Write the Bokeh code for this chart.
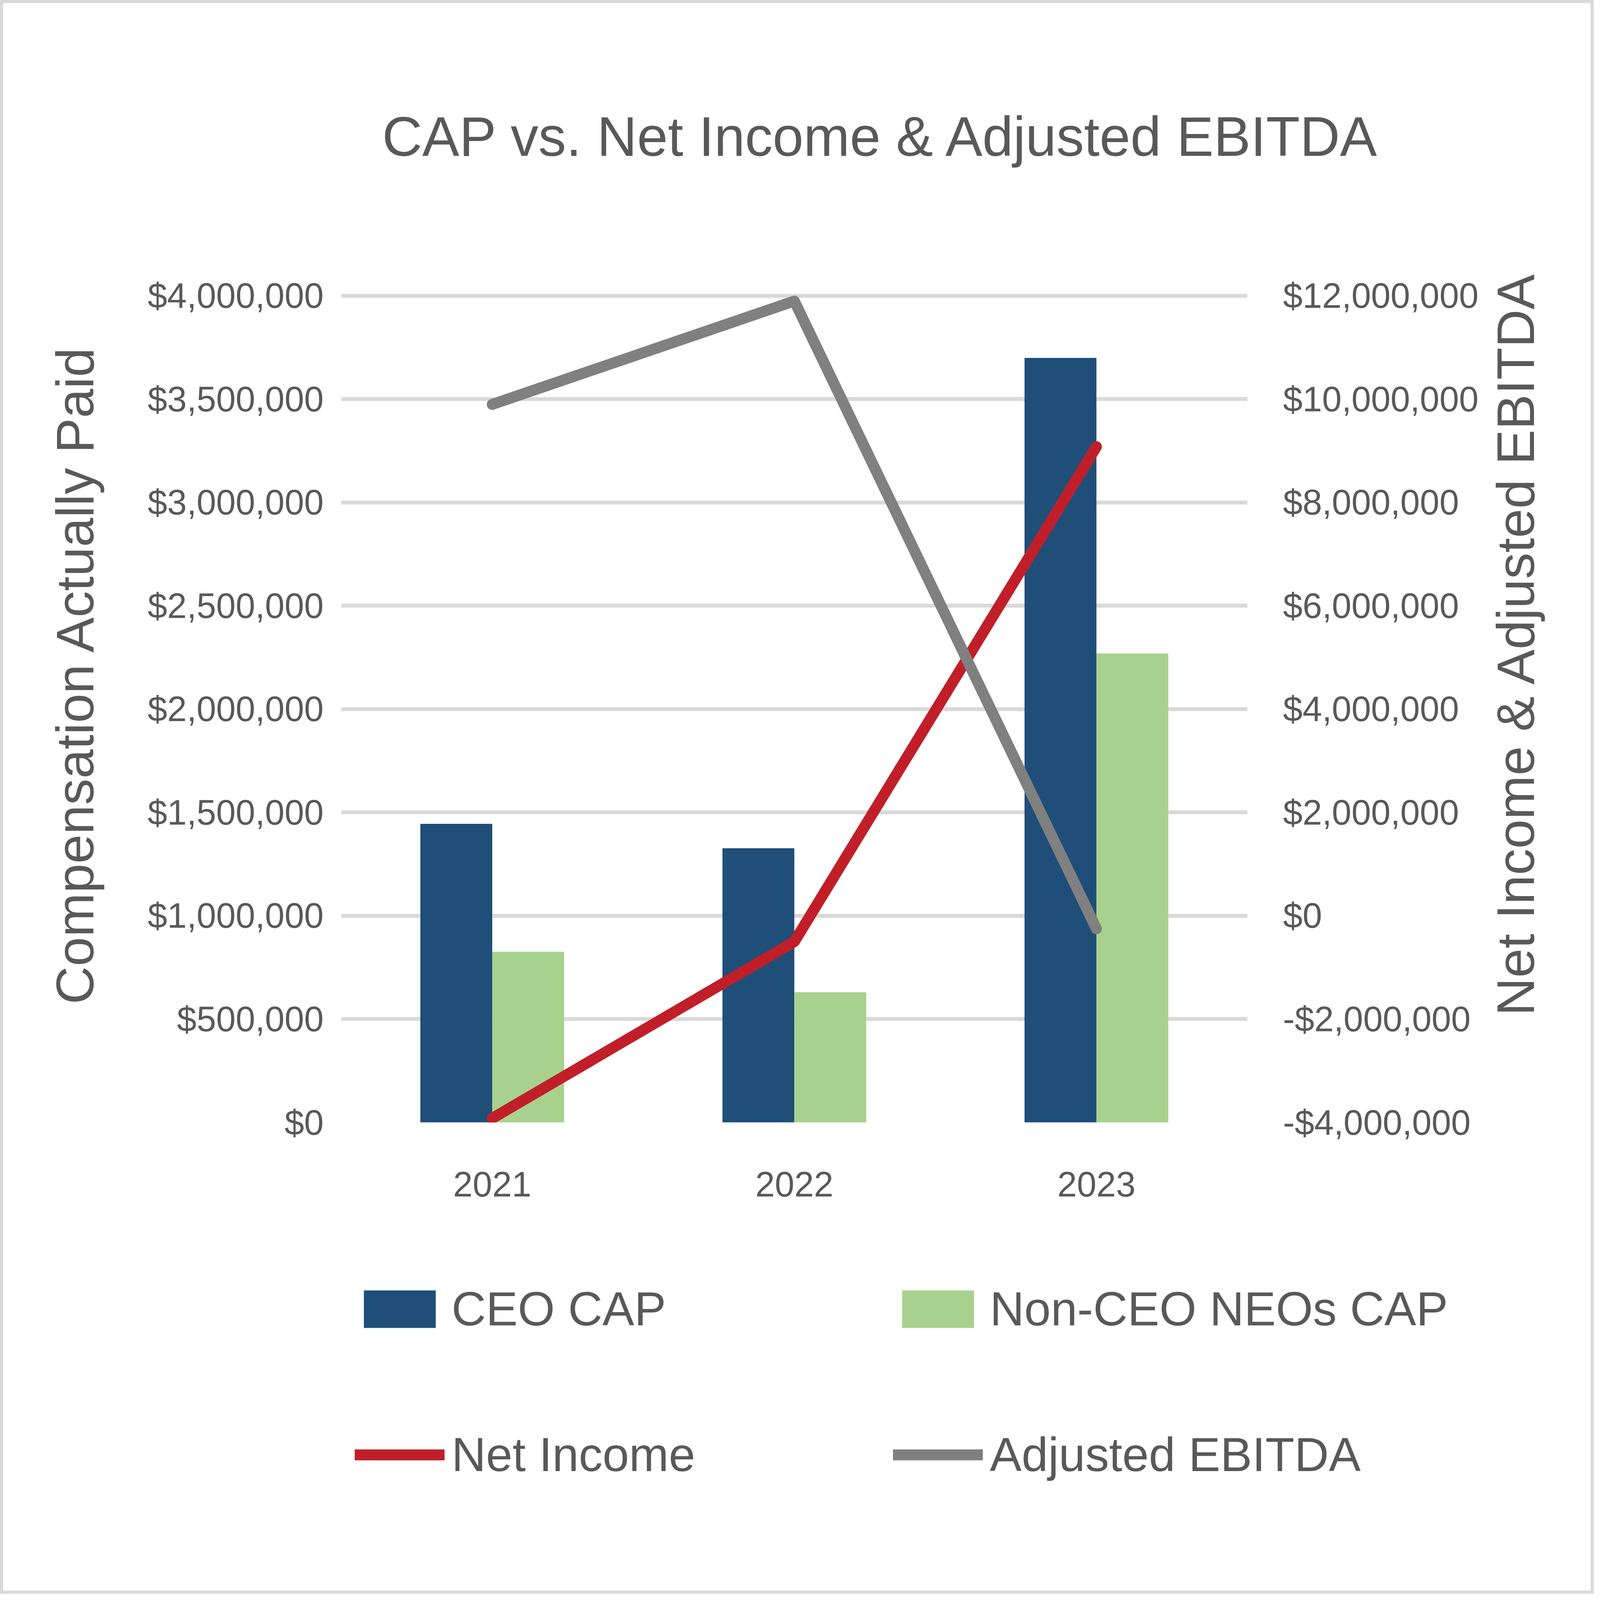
from math import pi
from bokeh.plotting import figure
from bokeh.layouts import row, column
from bokeh.models import (ColumnDataSource, Range1d, LinearAxis, FixedTicker, Legend,
                          LegendItem, FactorRange, Title, Label)
from bokeh.transform import dodge
from bokeh.embed import file_html
from bokeh.resources import INLINE

# ---------------- data ----------------
years = ["2021", "2022", "2023"]
ceo_cap = [1445000, 1327000, 3700000]
non_ceo_cap = [826000, 630000, 2270000]
net_income = [-3920000, -500000, 9080000]
adj_ebitda = [9900000, 11900000, -250000]

left_ticks = [0, 500000, 1000000, 1500000, 2000000, 2500000, 3000000, 3500000, 4000000]
left_tick_labels = ["$0", "$500,000", "$1,000,000", "$1,500,000", "$2,000,000",
                    "$2,500,000", "$3,000,000", "$3,500,000", "$4,000,000"]
right_ticks = [-4000000, -2000000, 0, 2000000, 4000000, 6000000, 8000000, 10000000, 12000000]
right_tick_labels = ["-$4,000,000", "-$2,000,000", "$0", "$2,000,000", "$4,000,000",
                     "$6,000,000", "$8,000,000", "$10,000,000", "$12,000,000"]

title_text = "CAP vs. Net Income & Adjusted EBITDA"
left_title = "Compensation Actually Paid"
right_title = "Net Income & Adjusted EBITDA"
series_names = ["CEO CAP", "Non-CEO NEOs CAP", "Net Income", "Adjusted EBITDA"]

# ---------------- layout / style ----------------
PAGE_W, PAGE_H = 4096, 4096
SX = PAGE_W / 5604.0
SY = PAGE_H / 4232.0
B = 8                       # outer border
ORG = 8 + B                 # page position of content origin
CW, CH = PAGE_W - 2 * ORG, PAGE_H - 2 * ORG   # content size (4064 x 4064)


def px(v):
    return v * SX


def py(v):
    return v * SY


FONT = "Liberation Sans"
TXT = "#595959"
GRID = "#D9D9D9"
C_CEO = "#1F4E79"
C_NEO = "#A9D18E"
C_NET = "#C01F2A"
C_EBITDA = "#808080"

TICK_FS = 90
TITLE_FS = 142
LEG_FS = 122
AX_FS = 135
LW = 28
BW = 0.238

# column split (page x): [left-title strip | main chart | right-title strip]
X_MAIN0, X_MAIN1 = 356, 3806
WL, WM, WR = X_MAIN0 - ORG, X_MAIN1 - X_MAIN0, ORG + CW - X_MAIN1
HM = 3120                   # height of the chart row
HL = CH - HM                # height of the legend strip

EXT = 100                   # empty frame space above the top grid line
GRID_H = py(2977) - py(790)
k = 1 + EXT / GRID_H
MB_L = int(round(px(1205) - X_MAIN0))
MB_R = int(round(WM - (px(4379) - X_MAIN0)))
MB_T = int(round(py(790) - ORG - EXT))
MB_B = int(round(HM - (py(2977) - ORG)))

src = ColumnDataSource(dict(year=years, ceo=ceo_cap, neo=non_ceo_cap,
                            net=net_income, ebitda=adj_ebitda))


def add_series(fig, y_right=None):
    rc = fig.vbar(x=dodge("year", -BW / 2, range=fig.x_range), top="ceo", width=BW,
                  source=src, fill_color=C_CEO, line_color=None)
    rn = fig.vbar(x=dodge("year", BW / 2, range=fig.x_range), top="neo", width=BW,
                  source=src, fill_color=C_NEO, line_color=None)
    kw = {} if y_right is None else {"y_range_name": y_right}
    rl1 = fig.line(x="year", y="net", source=src, line_color=C_NET, line_width=LW,
                   line_cap="round", line_join="round", **kw)
    rl2 = fig.line(x="year", y="ebitda", source=src, line_color=C_EBITDA, line_width=LW,
                   line_cap="round", line_join="round", **kw)
    return rc, rn, rl1, rl2


def blank(fig):
    fig.outline_line_color = None
    fig.background_fill_color = "white"
    fig.border_fill_color = "white"
    fig.grid.visible = False


# ---------------- main chart ----------------
p = figure(width=int(WM), height=int(HM), x_range=FactorRange(*years),
           y_range=Range1d(left_ticks[0], left_ticks[0] + (left_ticks[-1] - left_ticks[0]) * k),
           output_backend="svg", toolbar_location=None,
           min_border_left=MB_L, min_border_right=MB_R,
           min_border_top=MB_T, min_border_bottom=MB_B)
p.outline_line_color = None
p.background_fill_color = "white"
p.border_fill_color = "white"
p.title.text = ""
p.extra_y_ranges = {"right": Range1d(right_ticks[0],
                                     right_ticks[0] + (right_ticks[-1] - right_ticks[0]) * k)}

p.add_layout(Title(text=" ", text_font_size="1px", standoff=315 - (EXT - 6),
                   text_color="white"), "above")
p.add_layout(Title(text=title_text, align="left", offset=int(px(1359) - px(1205) - 7),
                   standoff=10, text_font=FONT, text_font_size="%dpx" % TITLE_FS,
                   text_font_style="normal", text_color=TXT), "above")

p.xgrid.visible = False
p.ygrid.ticker = FixedTicker(ticks=left_ticks)
p.ygrid.grid_line_color = GRID
p.ygrid.grid_line_width = 10

ya = p.yaxis[0]
ya.ticker = FixedTicker(ticks=left_ticks)
ya.major_label_overrides = {t: l for t, l in zip(left_ticks, left_tick_labels)}

ra = LinearAxis(y_range_name="right", ticker=FixedTicker(ticks=right_ticks))
ra.major_label_overrides = {t: l for t, l in zip(right_ticks, right_tick_labels)}
p.add_layout(ra, "right")

for ax in (ya, ra):
    ax.axis_line_color = None
    ax.major_tick_line_color = None
    ax.minor_tick_line_color = None
    ax.major_tick_out = 0
    ax.major_tick_in = 0
    ax.major_label_text_font = FONT
    ax.major_label_text_font_size = "%dpx" % TICK_FS
    ax.major_label_text_color = TXT
ya.major_label_standoff = int(px(1205) - px(1134)) - 6
ra.major_label_standoff = int(px(4500) - px(4379)) + 3

xa = p.xaxis[0]
xa.axis_line_color = None
xa.major_tick_line_color = None
xa.major_tick_out = 0
xa.major_tick_in = 0
xa.major_label_standoff = 126
xa.major_label_text_font = FONT
xa.major_label_text_font_size = "%dpx" % TICK_FS
xa.major_label_text_color = TXT

r_ceo, r_neo, r_net, r_ebitda = add_series(p, "right")


# ---------------- axis-title strips (page coordinates, frames aligned with the chart) ----------------
def strip(width, x0):
    f = figure(width=int(width), height=int(HM), x_range=Range1d(x0, x0 + width),
               y_range=Range1d(ORG + HM - MB_B, ORG + MB_T),
               output_backend="svg", toolbar_location=None, x_axis_location=None,
               y_axis_location=None, min_border_left=0, min_border_right=0,
               min_border_top=MB_T, min_border_bottom=MB_B)
    blank(f)
    f.title.text = ""
    return f


lt = strip(WL, ORG)
lt.add_layout(Label(x=px(274), y=py(1792), text=left_title, angle=pi / 2,
                    text_align="center", text_baseline="middle", text_font=FONT,
                    text_font_size="%dpx" % AX_FS, text_color=TXT))

rt = strip(WR, X_MAIN1)
rt.add_layout(Label(x=px(5319), y=py(1710), text=right_title, angle=pi / 2,
                    text_align="center", text_baseline="middle", text_font=FONT,
                    text_font_size="%dpx" % AX_FS, text_color=TXT))

# ---------------- legend strip ----------------
lg = figure(width=int(CW), height=int(HL), x_range=FactorRange(*years),
            y_range=Range1d(1e12, 2e12), output_backend="svg", toolbar_location=None,
            x_axis_location=None, y_axis_location=None, min_border=0)
blank(lg)
lg.title.text = ""
g_ceo, g_neo, g_net, g_ebitda = add_series(lg)     # same series, outside the visible range

GW, GH = 230, 120
SPACING = 233
ROW_H = 143
leg_top = py(3465) - ROW_H / 2                      # page y of first legend row
legend = Legend(
    items=[LegendItem(label=series_names[0], renderers=[g_ceo]),
           LegendItem(label=series_names[1], renderers=[g_neo]),
           LegendItem(label=series_names[2], renderers=[g_net]),
           LegendItem(label=series_names[3], renderers=[g_ebitda])],
    orientation="horizontal", ncols=2,
    location=(int(px(1286) - 0.1 * GW - ORG),
              int((ORG + CH) - leg_top - (2 * ROW_H + SPACING))),
    glyph_width=GW, glyph_height=GH, label_standoff=18,
    label_width=int(px(1886) - GW - 18 - SPACING), spacing=SPACING, padding=0, margin=0,
    border_line_color=None, background_fill_alpha=0,
    label_text_font=FONT, label_text_font_size="%dpx" % LEG_FS, label_text_color=TXT)
lg.add_layout(legend)

layout = column(row(lt, p, rt), lg)
layout.styles = {"border": "%dpx solid #D9D9D9" % B}

open("out.html", "w").write(file_html(layout, INLINE))
